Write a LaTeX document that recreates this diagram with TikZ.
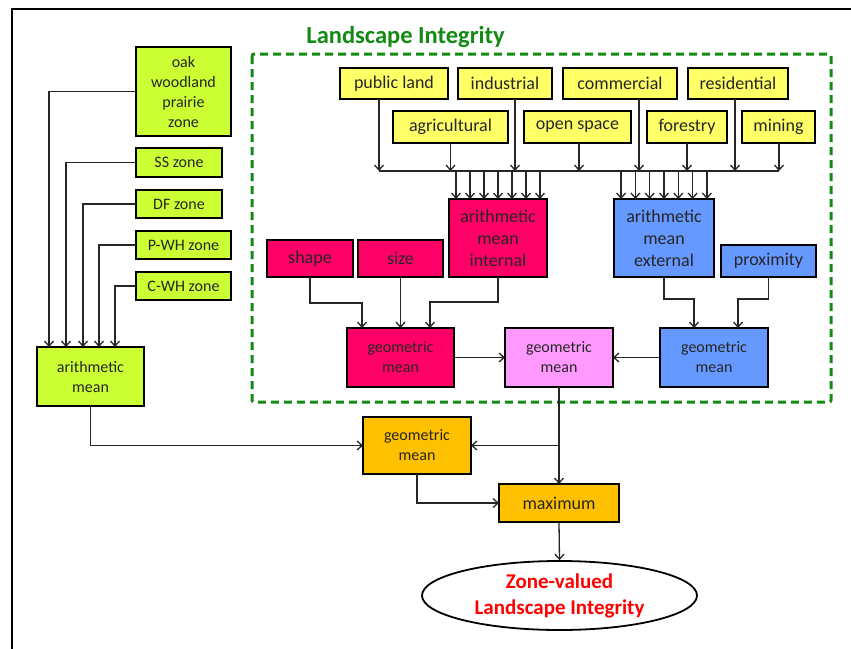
\documentclass[tikz,border=0pt]{standalone}
\usepackage{fontspec}
\setmainfont{Carlito}
\usetikzlibrary{arrows.meta,shapes.geometric}

\definecolor{ylw}{HTML}{FFFF66}
\definecolor{lime}{HTML}{CCFF33}
\definecolor{rose}{HTML}{FF0066}
\definecolor{sky}{HTML}{6699FF}
\definecolor{pinkish}{HTML}{FF99FF}
\definecolor{amber}{HTML}{FFC000}
\definecolor{grn}{HTML}{138A13}
\definecolor{txt}{HTML}{262626}

\tikzset{
  box/.style={draw=black, line width=2pt, inner sep=0pt, outer sep=0pt,
    align=center, text=txt},
  big/.style={font=\fontsize{18}{22}\selectfont},
  small/.style={font=\fontsize{16}{20}\selectfont},
  arr/.style={draw=black!85, line width=1.3pt,
    -{Straight Barb[length=5pt,width=9pt]}},
  wire/.style={draw=black!85, line width=1.3pt}
}

\begin{document}
\begin{tikzpicture}[x=1pt,y=-1pt]
\useasboundingbox[fill=white] (0,0) rectangle (851,648);

% outer frame (only the left and top edges fall inside the page)
\draw[line width=2.5pt] (12,660) -- (12,9) -- (860,9);

% landscape integrity group
\draw[grn, line width=3pt, dash pattern=on 8pt off 5pt, rounded corners=2pt]
  (252,54) rectangle (831,402);
\node[text=grn, font=\fontsize{24.5}{28}\selectfont\bfseries] (title) at (405.5,37) {Landscape Integrity};

% zone boxes
\node[box, small, fill=lime, minimum width=95pt, minimum height=89pt] (oak) at (183.5,91.5) {oak\\woodland\\prairie\\zone};
\node[box, small, fill=lime, minimum width=86pt, minimum height=29pt] (ss) at (179,162.5) {SS zone};
\node[box, small, fill=lime, minimum width=86pt, minimum height=28pt] (df) at (179,204) {DF zone};
\node[box, small, fill=lime, minimum width=95pt, minimum height=28pt] (pwh) at (183.5,245) {P-WH zone};
\node[box, small, fill=lime, minimum width=95pt, minimum height=28pt] (cwh) at (183.5,286) {C-WH zone};
\node[box, small, fill=lime, minimum width=107pt, minimum height=59pt] (am) at (90.5,376.5) {arithmetic\\mean};

% land-use boxes
\node[box, big, fill=ylw, minimum width=108pt, minimum height=31pt] (pub) at (394,83.5) {public land};
\node[box, big, fill=ylw, minimum width=94pt, minimum height=31pt] (ind) at (505,83.5) {industrial};
\node[box, big, fill=ylw, minimum width=114pt, minimum height=31pt] (com) at (620,83.5) {commercial};
\node[box, big, fill=ylw, minimum width=100pt, minimum height=31pt] (res) at (738,83.5) {residential};
\node[box, big, fill=ylw, minimum width=115pt, minimum height=32pt] (agr) at (450.5,127) {agricultural};
\node[box, big, fill=ylw, minimum width=107pt, minimum height=32pt] (ops) at (577.5,127) {open space};
\node[box, big, fill=ylw, minimum width=80pt, minimum height=32pt] (for) at (687,127) {forestry};
\node[box, big, fill=ylw, minimum width=73pt, minimum height=32pt] (min) at (778.5,127) {mining};

% internal branch
\node[box, big, fill=rose, minimum width=98pt, minimum height=78pt] (ami) at (498,238) {arithmetic\\mean\\internal};
\node[box, big, fill=rose, minimum width=86pt, minimum height=37pt] (shp) at (310,258.5) {shape};
\node[box, big, fill=rose, minimum width=85pt, minimum height=37pt] (siz) at (400.5,258.5) {size};
\node[box, small, fill=rose, minimum width=107pt, minimum height=59pt] (gmr) at (400.5,357.5) {geometric\\mean};

% external branch
\node[box, big, fill=sky, minimum width=100pt, minimum height=78pt] (ame) at (664,238) {arithmetic\\mean\\external};
\node[box, big, fill=sky, minimum width=95pt, minimum height=32pt] (prx) at (768.5,261) {proximity};
\node[box, small, fill=sky, minimum width=108pt, minimum height=59pt] (gmb) at (714,357.5) {geometric\\mean};

% combination
\node[box, small, fill=pinkish, minimum width=108pt, minimum height=59pt] (gmp) at (559,357.5) {geometric\\mean};
\node[box, small, fill=amber, minimum width=108pt, minimum height=57pt] (gmo) at (417,445.5) {geometric\\mean};
\node[box, big, fill=amber, minimum width=120pt, minimum height=38pt] (max) at (559,503) {maximum};
\node[ellipse, draw=black, line width=1.8pt, fill=white, inner sep=0pt,
  minimum width=275pt, minimum height=69pt, align=center, text=red,
  font=\fontsize{21}{26}\selectfont\bfseries] (ell) at (559.5,595.5) {Zone-valued\\Landscape Integrity};

% zones into the arithmetic mean
\draw[arr] (oak.west) -| ([xshift=-41.5pt]am.north);
\draw[arr] (ss.west)  -| ([xshift=-24.5pt]am.north);
\draw[arr] (df.west)  -| ([xshift=-7.5pt]am.north);
\draw[arr] (pwh.west) -| ([xshift=8.5pt]am.north);
\draw[arr] (cwh.west) -| ([xshift=24.5pt]am.north);

% land uses onto the collecting line
\coordinate (busL) at (379,171);
\coordinate (busR) at (779,171);
\draw[wire] (busL) -- (busR);
\draw[arr] ([xshift=-15pt]pub.south) -- ([xshift=-15pt]pub.south |- busL);
\draw[arr] (agr.south) -- (agr.south |- busL);
\draw[arr] ([xshift=10pt]ind.south) -- ([xshift=10pt]ind.south |- busL);
\draw[arr] ([xshift=1.5pt]ops.south) -- ([xshift=1.5pt]ops.south |- busL);
\draw[arr] ([xshift=19pt]com.south) -- ([xshift=19pt]com.south |- busL);
\draw[arr] (for.south) -- (for.south |- busL);
\draw[arr] ([xshift=-3pt]res.south) -- ([xshift=-3pt]res.south |- busL);
\draw[arr] ([xshift=0.5pt]min.south) -- ([xshift=0.5pt]min.south |- busL);

% collecting line into both arithmetic means
\foreach \i in {-3,...,3}{
  \draw[arr] ([xshift=\i*14pt]ami.north |- busL) -- ([xshift=\i*14pt]ami.north);
  \draw[arr] ([xshift=\i*14.3pt]ame.north |- busL) -- ([xshift=\i*14.3pt]ame.north);
}

% internal geometric mean
\coordinate (jshp) at (362,303);
\coordinate (jami) at (430,302);
\draw[arr] (shp.south) |- (jshp) -- (jshp |- gmr.north);
\draw[arr] (siz.south) -- (siz.south |- gmr.north);
\draw[arr] (ami.south) |- (jami) -- (jami |- gmr.north);

% external geometric mean
\coordinate (jame) at (694,299);
\coordinate (jprx) at (738,299);
\draw[arr] (ame.south) |- (jame) -- (jame |- gmb.north);
\draw[arr] (prx.south) |- (jprx) -- (jprx |- gmb.north);

% combining
\draw[arr] (gmr.east) -- (gmp.west);
\draw[arr] (gmb.west) -- (gmp.east);
\draw[arr] (gmp.south) -- (max.north);
\draw[arr] (gmp.south |- gmo.east) -- (gmo.east);
\draw[arr] (am.south) |- (gmo.west);
\draw[arr] (gmo.south) |- (max.west);
\draw[arr] (max.south) -- (ell.north);
\end{tikzpicture}
\end{document}
